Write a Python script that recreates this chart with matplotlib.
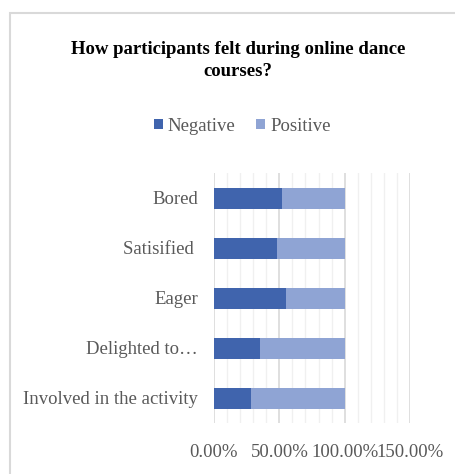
#!/usr/bin/env python3
import matplotlib

matplotlib.use("Agg")
import matplotlib.pyplot as plt
from matplotlib.patches import Rectangle
from matplotlib.ticker import MultipleLocator, PercentFormatter

plt.rcParams["font.family"] = ["Liberation Serif", "DejaVu Serif"]

CATEGORIES = ["Bored", "Satisified ", "Eager", "Delighted to\u2026", "Involved in the activity"]
NEGATIVE = [0.52, 0.48, 0.55, 0.35, 0.28]
POSITIVE = [0.48, 0.52, 0.45, 0.65, 0.72]
X_TICKS = [0.0, 0.5, 1.0, 1.5]

DARK = "#4064ad"
LIGHT = "#8fa4d4"
GREY = "#595959"

fig = plt.figure(figsize=(4.55, 4.74), dpi=100)
ax = fig.add_axes([214 / 455, 51 / 474, 196 / 455, 250 / 474])

# chart frame (Excel-style border)
fig.add_artist(Rectangle((10 / 455, -0.1), 2.0, 1.1 - 13 / 474, transform=fig.transFigure,
                         fill=False, edgecolor="#d9d9d9", linewidth=1.5))

ypos = list(range(len(CATEGORIES)))
ax.barh(ypos, NEGATIVE, height=0.42, color=DARK, label="Negative", zorder=3)
ax.barh(ypos, POSITIVE, left=NEGATIVE, height=0.42, color=LIGHT, label="Positive", zorder=3)

ax.set_ylim(len(CATEGORIES) - 0.5, -0.5)
ax.set_xlim(0, 1.5)
ax.set_yticks(ypos)
ax.set_yticklabels(CATEGORIES)
ax.set_xticks(X_TICKS)
ax.xaxis.set_major_formatter(PercentFormatter(xmax=1, decimals=2))
ax.xaxis.set_minor_locator(MultipleLocator(0.1))
ax.grid(True, axis="x", which="minor", color="#f0f0f0", linewidth=1.0, zorder=0)
ax.grid(True, axis="x", which="major", color="#d9d9d9", linewidth=1.2, zorder=1)
for side in ("top", "right", "bottom", "left"):
    ax.spines[side].set_visible(False)
ax.tick_params(axis="both", which="both", length=0, labelsize=13.5, labelcolor=GREY)
ax.tick_params(axis="y", pad=11.5)
ax.tick_params(axis="x", pad=15)

fig.text(0.523, 0.8724, "How participants felt during online dance\ncourses?", ha="center", va="center",
         fontsize=13.5, fontweight="bold", color="black", linespacing=1.45)

fig.legend(loc="center", bbox_to_anchor=(0.532, 0.734), ncol=2, frameon=False, fontsize=13.5,
           labelcolor=GREY, handlelength=0.5, handleheight=0.5, handletextpad=0.25,
           columnspacing=1.1)

fig.savefig("out.png", dpi=100)
